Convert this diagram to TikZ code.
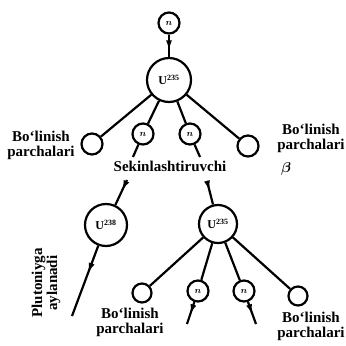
\documentclass[tikz,border=0pt]{standalone}
\usepackage{amsmath}
\usepackage{fontspec}
\setmainfont{Liberation Serif}
\usetikzlibrary{decorations.markings,arrows.meta}
\begin{document}
\begin{tikzpicture}[x=1pt,y=-1pt,
  ln/.style={line width=2.2pt},
  circ/.style={circle,draw,line width=2.2pt,inner sep=0pt},
  bigc/.style={circ,minimum size=44pt},
  midc/.style={circ,minimum size=38pt},
  smallc/.style={circ,minimum size=21pt},
  lbl/.style={font=\bfseries\fontsize{15}{15}\selectfont,align=center,inner sep=0pt},
  ulab/.style={font=\bfseries\fontsize{12}{12}\selectfont},
  nlab/.style={font=\bfseries\small},
  arrat/.style={postaction={decorate},decoration={markings,mark=at position #1 with {\arrow{Latex[length=11pt,width=6pt]}}}},
]
\useasboundingbox (0,0) rectangle (346,346);
% nodes
\node[smallc,nlab] (n0) at (169,23) {$\boldsymbol{n}$};
\node[bigc,ulab] (u0) at (169,80) {U$^{\mathbf{235}}$};
\node[circ,minimum size=21pt] (f1) at (92,144) {};
\node[smallc,nlab] (n1) at (143,134) {$\boldsymbol{n}$};
\node[smallc,nlab] (n2) at (190,134) {$\boldsymbol{n}$};
\node[circ,minimum size=21pt] (f2) at (248,146) {};
\node[lbl] (sek) at (170,166) {Sekinlashtiruvchi};
\node[lbl] (l1) at (41,145) {Bo‘linish\\parchalari};
\node[lbl] (r1) at (311,138) {Bo‘linish\\parchalari};
\node[font=\Large] (beta) at (286,169) {$\boldsymbol{\beta}$};
\node[bigc,ulab,minimum size=42pt] (u1) at (106,225) {U$^{\mathbf{238}}$};
\node[midc,ulab] (u2) at (218,224) {U$^{\mathbf{235}}$};
\node[lbl,rotate=90] (plu) at (46,283) {Plutoniyga\\aylanadi};
\node[circ,minimum size=19pt] (f3) at (142,293) {};
\node[smallc,nlab] (n3) at (198,291) {$\boldsymbol{n}$};
\node[smallc,nlab] (n4) at (244,291) {$\boldsymbol{n}$};
\node[circ,minimum size=19pt] (f4) at (298,296) {};
\node[lbl] (l2) at (130,322) {Bo‘linish\\parchalari};
\node[lbl] (r2) at (311,326) {Bo‘linish\\parchalari};
% free ends
\coordinate (s1) at (133,157);
\coordinate (s2) at (200,157);
\coordinate (s3) at (127,180);
\coordinate (s4) at (207,181);
\coordinate (e1) at (72,316);
\coordinate (e3) at (187,324);
\coordinate (e4) at (256,324);
% connectors
\draw[ln,arrat=0.75] (n0) -- (u0);
\draw[ln] (u0) -- (f1);
\draw[ln] (u0) -- (n1);
\draw[ln] (u0) -- (n2);
\draw[ln] (u0) -- (f2);
\draw[ln] (n1) -- (s1);
\draw[ln] (n2) -- (s2);
\draw[ln,arrat=0.45] (s3) -- (u1);
\draw[ln,arrat=0.45] (s4) -- (u2);
\draw[ln,arrat=0.4] (u1) -- (e1);
\draw[ln] (u2) -- (f3);
\draw[ln] (u2) -- (n3);
\draw[ln] (u2) -- (n4);
\draw[ln] (u2) -- (f4);
\draw[ln,arrat=0.6] (n3) -- (e3);
\draw[ln,arrat=0.6] (n4) -- (e4);
\end{tikzpicture}
\end{document}
